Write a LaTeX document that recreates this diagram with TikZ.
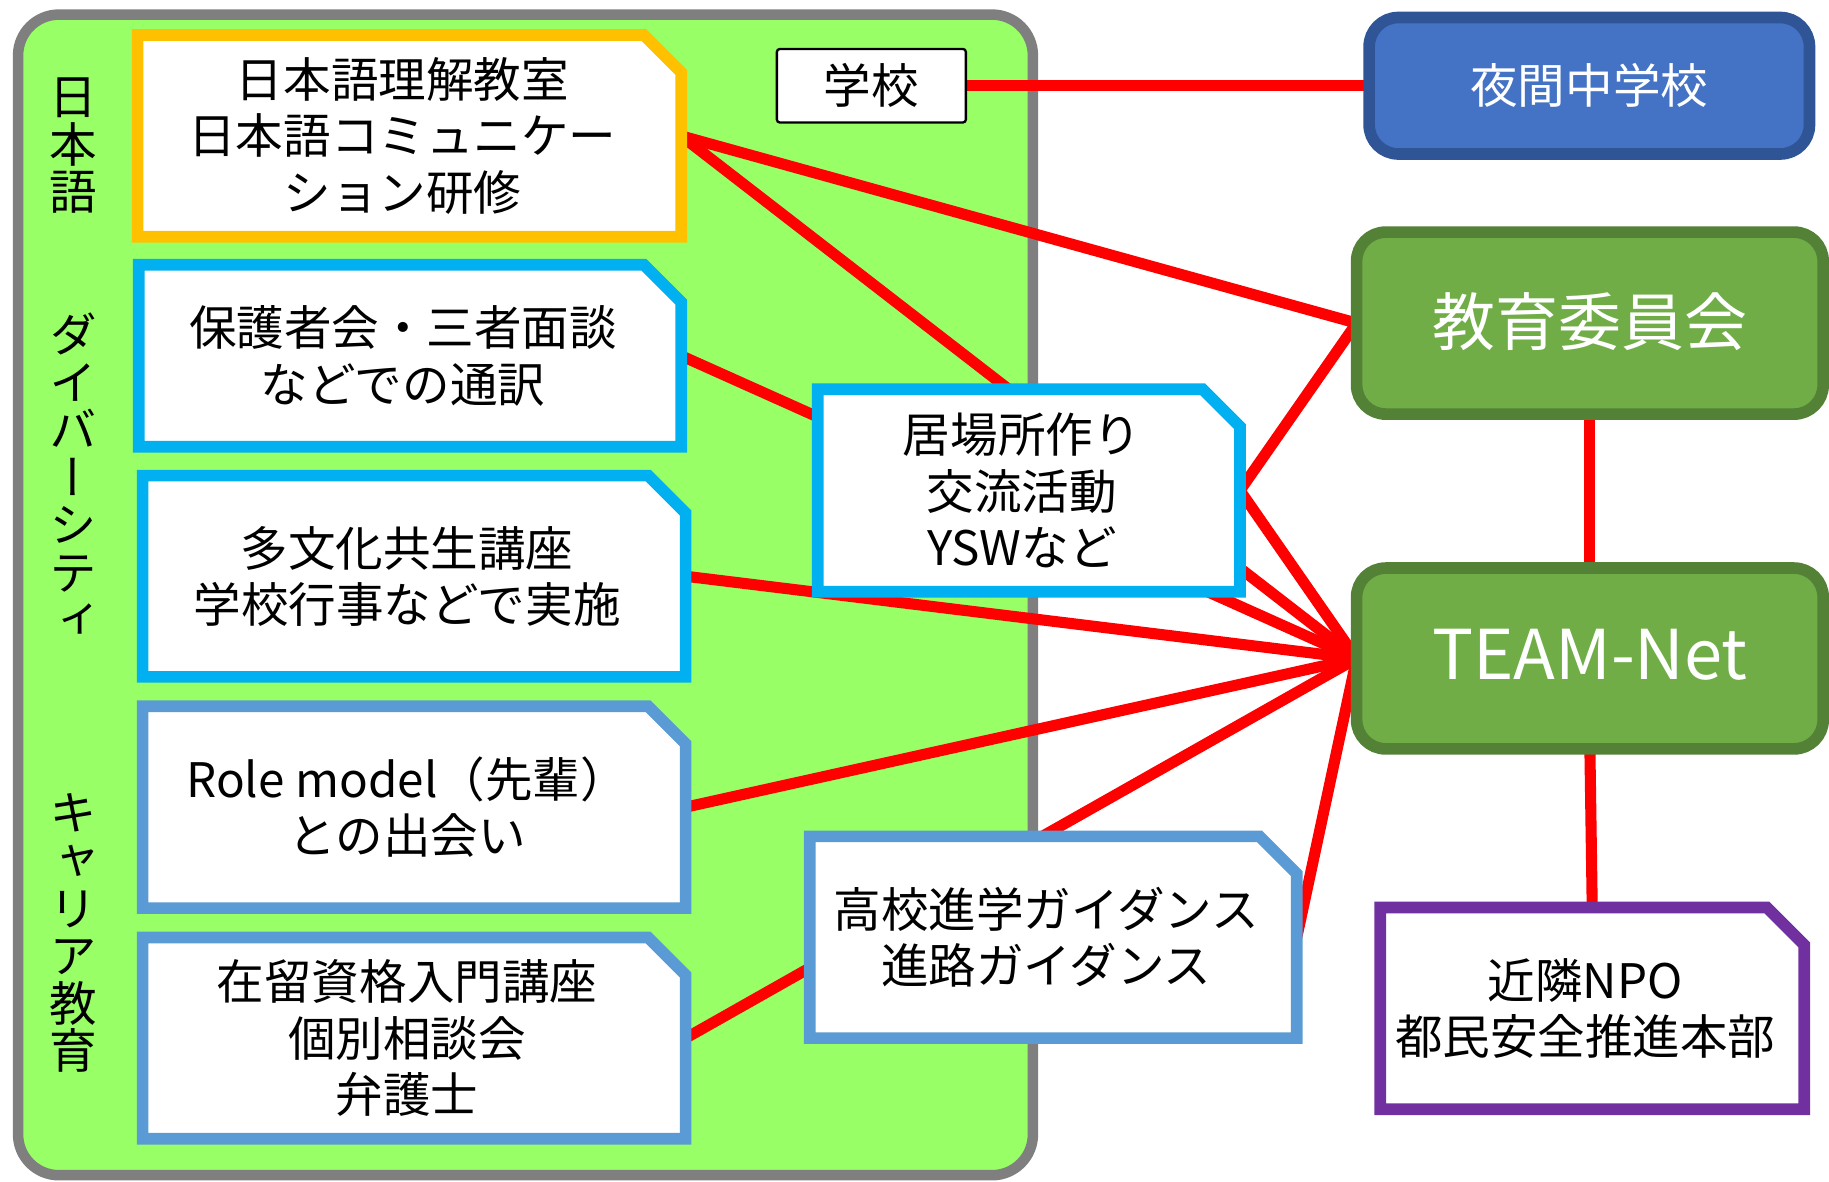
\documentclass[tikz,border=0pt]{standalone}
\usepackage{fontspec}
\setmainfont{Noto Sans CJK JP}
\newfontfamily\vjp[RawFeature=+vert]{Noto Sans CJK JP}
\usetikzlibrary{calc}
\pgfdeclarelayer{back}
\pgfdeclarelayer{lines}
\pgfdeclarelayer{boxes}
\pgfsetlayers{back,lines,boxes,main}
\definecolor{bggreen}{HTML}{99FF66}
\definecolor{bordergray}{HTML}{7F7F7F}
\definecolor{orangeC}{HTML}{FFC000}
\definecolor{cyanC}{HTML}{00B0F0}
\definecolor{steelC}{HTML}{5B9BD5}
\definecolor{redC}{HTML}{FF0000}
\definecolor{blueFill}{HTML}{4472C4}
\definecolor{blueLine}{HTML}{2F5597}
\definecolor{greenFill}{HTML}{70AD47}
\definecolor{greenLine}{HTML}{538135}
\definecolor{purpleC}{HTML}{7030A0}
\tikzset{
  txt/.style={font=\fontsize{23.2pt}{27.6pt}\selectfont, align=center},
  bigtxt/.style={font=\fontsize{30.7pt}{36pt}\selectfont, align=center},
  teamtxt/.style={font=\fontsize{33.5pt}{38pt}\selectfont, align=center},
  vlabel/.style={font=\vjp\fontsize{23.2pt}{23.2pt}\selectfont, align=center, inner sep=0pt},
  snipbox/.style={txt, inner sep=0pt, outer sep=0pt},
  rbox/.style={line width=0.2cm, rounded corners=0.5cm, inner sep=0pt, outer sep=0pt, text=white},
  redline/.style={draw=redC, line width=0.19cm},
  container/.style={draw=bordergray, fill=bggreen, line width=0.18cm, rounded corners=0.7cm, inner sep=0pt, outer sep=0pt}
}
\newcommand\snipoutline[2]{%
  \begin{pgfonlayer}{boxes}
  \draw[line width=0.2cm, draw=#2, fill=white, line join=miter]
    (#1.north west) -- ($(#1.north east)+(-0.64,0)$) -- ($(#1.north east)+(0,-0.64)$)
    -- (#1.south east) -- (#1.south west) -- cycle;
  \end{pgfonlayer}}
\newcommand\lft{\hspace*{-0.24cm}}
\begin{document}
\begin{tikzpicture}
\useasboundingbox (0,0) rectangle (31.36,-20.26);
\begin{pgfonlayer}{back}
\node[container, minimum width=17.4cm, minimum height=19.9cm] (area) at (9.01,-10.2) {};
\end{pgfonlayer}

% vertical labels
\node[vlabel] (lab1) at (1.26,-2.5) {日\\本\\語};
\node[vlabel] (lab2) at (1.26,-8.15) {ダ\\イ\\バ\\ー\\シ\\テ\\ィ};
\node[vlabel] (lab3) at (1.26,-16.0) {キ\\ャ\\リ\\ア\\教\\育};

% left boxes
\node[snipbox, minimum width=9.32cm, minimum height=3.46cm] (b1) at (7.02,-2.33) {\lft{}日本語理解教室\\\lft{}日本語コミュニケー\\\lft{}ション研修};
\snipoutline{b1}{orangeC}
\node[snipbox, minimum width=9.30cm, minimum height=3.12cm] (b2) at (7.03,-6.10) {\lft{}保護者会・三者面談\\\lft{}などでの通訳};
\snipoutline{b2}{cyanC}
\node[snipbox, minimum width=9.31cm, minimum height=3.45cm] (b3) at (7.10,-9.88) {\lft{}多文化共生講座\\\lft{}学校行事などで実施};
\snipoutline{b3}{cyanC}
\node[snipbox, minimum width=9.31cm, minimum height=3.46cm] (b4) at (7.10,-13.84) {\lft{}Role model（先輩）\\\lft{}との出会い};
\snipoutline{b4}{steelC}
\node[snipbox, minimum width=9.31cm, minimum height=3.45cm] (b5) at (7.10,-17.80) {\lft{}在留資格入門講座\\\lft{}個別相談会\\\lft{}弁護士};
\snipoutline{b5}{steelC}

% middle boxes
\node[snipbox, minimum width=7.24cm, minimum height=3.47cm] (ibasho) at (17.64,-8.41) {\lft{}居場所作り\\\lft{}交流活動\\\lft{}YSWなど};
\snipoutline{ibasho}{cyanC}
\node[snipbox, minimum width=8.35cm, minimum height=3.46cm] (koko) at (18.06,-16.07) {\lft{}高校進学ガイダンス\\\lft{}進路ガイダンス};
\snipoutline{koko}{steelC}
\node[txt, draw=black, line width=0.04cm, fill=white, rounded corners=0.05cm, inner sep=0pt, outer sep=0pt, minimum width=3.24cm, minimum height=1.26cm] (school) at (14.94,-1.47) {学校};

% right boxes
\node[rbox, txt, text=white, fill=blueFill, draw=blueLine, minimum width=7.55cm, minimum height=2.34cm] (night) at (27.25,-1.47) {夜間中学校};
\node[rbox, bigtxt, text=white, fill=greenFill, draw=greenLine, minimum width=8.0cm, minimum height=3.12cm] (kyoiku) at (27.26,-5.54) {\raisebox{0.14cm}{教育委員会}};
\node[rbox, teamtxt, text=white, fill=greenFill, draw=greenLine, minimum width=8.0cm, minimum height=3.10cm] (team) at (27.26,-11.29) {\raisebox{0.14cm}{TEAM-Net}};
\node[snipbox, minimum width=7.27cm, minimum height=3.46cm] (npo) at (27.30,-17.29) {\lft{}近隣NPO\\\lft{}都民安全推進本部};
\snipoutline{npo}{purpleC}

% connectors
\begin{pgfonlayer}{lines}
\draw[redline] (school.east) -- (night.west);
\draw[redline] (b1.east) -- (kyoiku.west);
\draw[redline] (b1.east) -- (team.west);
\draw[redline] (b2.east) -- (team.west);
\draw[redline] (b3.east) -- (team.west);
\draw[redline] (b4.east) -- (team.west);
\draw[redline] (b5.east) -- (team.west);
\draw[redline] (ibasho.east) -- (kyoiku.west);
\draw[redline] (ibasho.east) -- (team.west);
\draw[redline] (koko.east) -- (team.west);
\draw[redline] (kyoiku.south) -- (team.north);
\draw[redline] (team.south) -- (npo.north);
\end{pgfonlayer}
\end{tikzpicture}
\end{document}
